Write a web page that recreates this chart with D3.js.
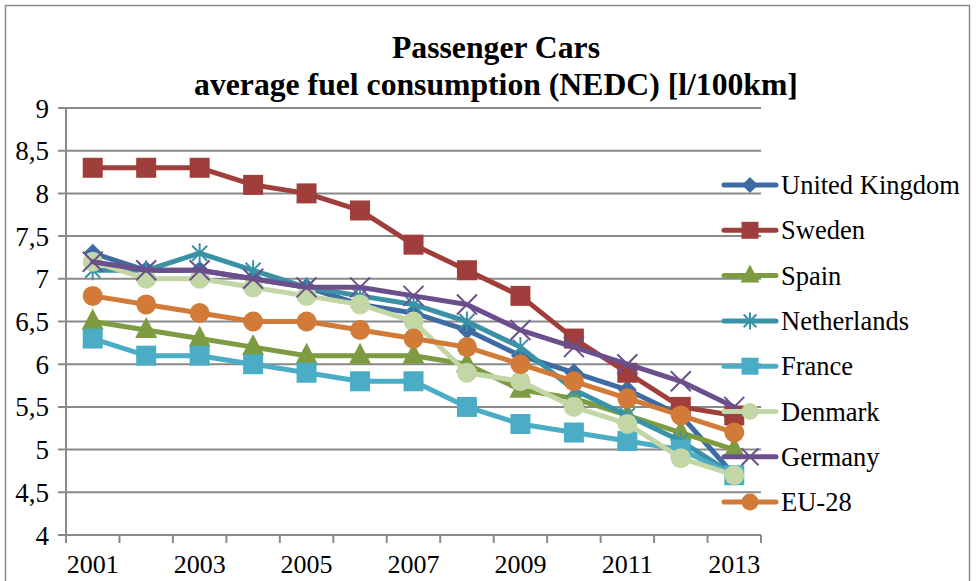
<!DOCTYPE html>
<html>
<head>
<meta charset="utf-8">
<script src="https://cdn.jsdelivr.net/npm/d3@7"></script>
</head>
<body style="margin:0">
<svg id="chart" width="976" height="581"></svg>
<script>
const years = ["2001","2002","2003","2004","2005","2006","2007","2008","2009","2010","2011","2012","2013"];
const xTickLabels = ["2001","2003","2005","2007","2009","2011","2013"];
const yTicks = [4, 4.5, 5, 5.5, 6, 6.5, 7, 7.5, 8, 8.5, 9];
const seriesNames = ["United Kingdom","Sweden","Spain","Netherlands","France","Denmark","Germany","EU-28"];
const ukValues          = [7.3, 7.1, 7.1, 7.0, 6.9, 6.7, 6.6, 6.4, 6.1, 5.9, 5.7, 5.4, 4.7];
const swedenValues      = [8.3, 8.3, 8.3, 8.1, 8.0, 7.8, 7.4, 7.1, 6.8, 6.3, 5.9, 5.5, 5.4];
const spainValues       = [6.5, 6.4, 6.3, 6.2, 6.1, 6.1, 6.1, 6.0, 5.7, 5.6, 5.4, 5.2, 5.0];
const netherlandsValues = [7.1, 7.1, 7.3, 7.1, 6.9, 6.8, 6.7, 6.5, 6.2, 5.7, 5.4, 5.1, 4.7];
const franceValues      = [6.3, 6.1, 6.1, 6.0, 5.9, 5.8, 5.8, 5.5, 5.3, 5.2, 5.1, 5.0, 4.7];
const denmarkValues     = [7.2, 7.0, 7.0, 6.9, 6.8, 6.7, 6.5, 5.9, 5.8, 5.5, 5.3, 4.9, 4.7];
const germanyValues     = [7.2, 7.1, 7.1, 7.0, 6.9, 6.9, 6.8, 6.7, 6.4, 6.2, 6.0, 5.8, 5.5];
const eu28Values        = [6.8, 6.7, 6.6, 6.5, 6.5, 6.4, 6.3, 6.2, 6.0, 5.8, 5.6, 5.4, 5.2];
const titleLines = ["Passenger Cars", "average fuel consumption (NEDC) [l/100km]"];

const colors = ["#3E6BA3","#A03E3B","#7D9C42","#3A92A8","#4BACC6","#C3D6A6","#6B4F8C","#D27B38"];
const markers = ["diamond","square","triangle","star","square","circle","x","circle"];
const allValues = [ukValues, swedenValues, spainValues, netherlandsValues, franceValues, denmarkValues, germanyValues, eu28Values];
const series = seriesNames.map((n, i) => ({ name: n, values: allValues[i], color: colors[i], marker: markers[i] }));

const FONT = '"Liberation Serif"';
const svg = d3.select("#chart");
const plot = { left: 66, right: 761, top: 108, bottom: 535 };
const gridColor = "#8a8a8a";

svg.append("rect").attr("x", 5.5).attr("y", 5.5).attr("width", 964).attr("height", 600)
  .attr("fill", "none").attr("stroke", "#8a8a8a").attr("stroke-width", 1.5);

const x = d3.scaleBand().domain(years).range([plot.left, plot.right]).paddingInner(0).paddingOuter(0);
const y = d3.scaleLinear().domain([4, 9]).range([plot.bottom, plot.top]);
const cx = d => x(d) + x.bandwidth() / 2;

svg.append("g").selectAll("line").data(yTicks).join("line")
  .attr("x1", plot.left - 8).attr("x2", plot.right)
  .attr("y1", d => y(d)).attr("y2", d => y(d))
  .attr("stroke", gridColor).attr("stroke-width", 2);

yTicks.forEach(d => {
  svg.append("text")
    .attr("x", 49).attr("y", y(d) + 9.5)
    .attr("text-anchor", "end").attr("font-size", 27).style("font-family", FONT)
    .text(String(d).replace(".", ","));
});

svg.append("line").attr("x1", plot.left).attr("x2", plot.left)
  .attr("y1", plot.top).attr("y2", plot.bottom)
  .attr("stroke", gridColor).attr("stroke-width", 2);

const boundaries = years.map(d => x(d)).concat([x(years[years.length - 1]) + x.bandwidth()]);
svg.append("g").selectAll("line").data(boundaries).join("line")
  .attr("x1", d => d).attr("x2", d => d)
  .attr("y1", plot.bottom).attr("y2", plot.bottom + 8)
  .attr("stroke", gridColor).attr("stroke-width", 2);

xTickLabels.forEach(d => {
  svg.append("text")
    .attr("x", cx(d)).attr("y", 573)
    .attr("text-anchor", "middle").attr("font-size", 26).style("font-family", FONT)
    .text(d);
});

titleLines.forEach((d, i) => {
  svg.append("text")
    .attr("x", 496).attr("y", 58 + i * 37)
    .attr("text-anchor", "middle").attr("font-size", 31.7).style("font-weight", "bold")
    .style("font-family", FONT)
    .text(d);
});

function drawMarker(g, type, color, px, py, s) {
  const r = 10 * s;
  if (type === "square") {
    g.append("rect").attr("x", px - r).attr("y", py - r).attr("width", 2 * r).attr("height", 2 * r)
      .attr("fill", color);
  } else if (type === "circle") {
    g.append("circle").attr("cx", px).attr("cy", py).attr("r", r).attr("fill", color);
  } else if (type === "triangle") {
    const h = 21 * s, w = 22 * s;
    g.append("path").attr("d", `M${px},${py - h * 0.62}L${px + w / 2},${py + h * 0.38}L${px - w / 2},${py + h * 0.38}Z`)
      .attr("fill", color);
  } else if (type === "diamond") {
    const d = 9.5 * s;
    g.append("path").attr("d", `M${px},${py - d}L${px + d},${py}L${px},${py + d}L${px - d},${py}Z`)
      .attr("fill", color);
  } else if (type === "star") {
    const a = 10 * s, b = 7.5 * s;
    g.append("path").attr("d",
      `M${px},${py - a}L${px},${py + a}M${px - b},${py - b}L${px + b},${py + b}M${px - b},${py + b}L${px + b},${py - b}`)
      .attr("stroke", color).attr("stroke-width", 2).attr("fill", "none");
  } else if (type === "x") {
    const b = 10 * s;
    g.append("path").attr("d",
      `M${px - b},${py - b}L${px + b},${py + b}M${px - b},${py + b}L${px + b},${py - b}`)
      .attr("stroke", color).attr("stroke-width", 2).attr("fill", "none");
  }
}

const line = d3.line().x((d, i) => cx(years[i])).y(d => y(d));

series.forEach(s => {
  const g = svg.append("g");
  g.append("path").attr("d", line(s.values)).attr("fill", "none")
    .attr("stroke", s.color).attr("stroke-width", 5)
    .attr("stroke-linejoin", "round").attr("stroke-linecap", "round");
  s.values.forEach((v, i) => drawMarker(g, s.marker, s.color, cx(years[i]), y(v), 1));
});

series.forEach((s, i) => {
  const ly = 185 + i * 45.3;
  svg.append("line").attr("x1", 724).attr("x2", 776).attr("y1", ly).attr("y2", ly)
    .attr("stroke", s.color).attr("stroke-width", 5).attr("stroke-linecap", "round");
  drawMarker(svg, s.marker, s.color, 750, ly, 0.85);
  svg.append("text").attr("x", 781).attr("y", ly + 9)
    .attr("font-size", 26.5).style("font-family", FONT).text(s.name);
});
</script>
</body>
</html>
